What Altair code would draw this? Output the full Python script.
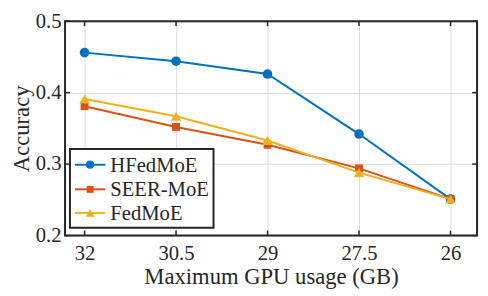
import altair as alt
import pandas as pd

x_vals = [32, 30.5, 29, 27.5, 26]
hfedmoe = [0.456, 0.444, 0.426, 0.342, 0.251]
seer_moe = [0.381, 0.352, 0.327, 0.294, 0.251]
fedmoe = [0.391, 0.367, 0.333, 0.288, 0.251]
series_names = ["HFedMoE", "SEER-MoE", "FedMoE"]
series_vals = [hfedmoe, seer_moe, fedmoe]
colors = ["#0072BD", "#D95319", "#EDB120"]
shapes = ["circle", "square", "triangle-up"]
marker_sizes = [95, 64, 110]
legend_sizes = [70, 50, 85]
y_ticks = [0.2, 0.3, 0.4, 0.5]

FONT = "Liberation Serif"
TXT = "#262626"
W, H = 419, 218

rows = []
for name, vals in zip(series_names, series_vals):
    for xv, yv in zip(x_vals, vals):
        rows.append({"series": name, "x": xv, "y": yv})
df = pd.DataFrame(rows)

xscale = alt.Scale(domain=[32.32, 25.565], nice=False, zero=False)
yscale = alt.Scale(domain=[0.2, 0.5], nice=False, zero=False)

xaxis = alt.Axis(values=x_vals, labelExpr="'' + datum.value", title="Maximum GPU usage (GB)",
                 ticks=False, domain=False, grid=True, gridColor="#dcdcdc", gridWidth=1,
                 labelFont=FONT, labelFontSize=21, labelColor=TXT, labelPadding=7,
                 titleFont=FONT, titleFontSize=23, titleFontWeight="normal", titleColor=TXT,
                 titlePadding=3)
yaxis = alt.Axis(values=y_ticks, format=".1f", title="Accuracy",
                 ticks=False, domain=False, grid=True, gridColor="#dcdcdc", gridWidth=1,
                 labelFont=FONT, labelFontSize=21, labelColor=TXT, labelPadding=4,
                 titleFont=FONT, titleFontSize=23, titleFontWeight="normal", titleColor=TXT,
                 titlePadding=2)

X = alt.X("x:Q", scale=xscale, axis=xaxis)
Y = alt.Y("y:Q", scale=yscale, axis=yaxis)

base = alt.Chart(df)
layers = []

for name, col, shp, sz in zip(series_names, colors, shapes, marker_sizes):
    sub = base.transform_filter(alt.datum.series == name)
    layers.append(sub.mark_line(color=col, strokeWidth=2).encode(x=X, y=Y))
    layers.append(sub.mark_point(color=col, shape=shp, filled=True, size=sz, opacity=1).encode(x=X, y=Y))

# inward ticks
xt = alt.Chart(pd.DataFrame({"x": x_vals}))
yt = alt.Chart(pd.DataFrame({"y": y_ticks}))
tick_style = dict(color=TXT, strokeWidth=1.5)
layers.append(xt.mark_rule(**tick_style).encode(x=X, y=alt.value(0), y2=alt.value(5)))
layers.append(xt.mark_rule(**tick_style).encode(x=X, y=alt.value(H), y2=alt.value(H - 5)))
layers.append(yt.mark_rule(**tick_style).encode(y=Y, x=alt.value(0), x2=alt.value(5)))
layers.append(yt.mark_rule(**tick_style).encode(y=Y, x=alt.value(W), x2=alt.value(W - 5)))

# plot frame
frame = alt.Chart(pd.DataFrame({"a": [0]})).mark_rect(
    fill=None, filled=False, stroke=TXT, strokeWidth=2).encode(
    x=alt.value(0), x2=alt.value(W), y=alt.value(0), y2=alt.value(H))
layers.append(frame)

# manual legend
leg_box = alt.Chart(pd.DataFrame({"a": [0]})).mark_rect(
    fill="white", stroke=TXT, strokeWidth=2).encode(
    x=alt.value(5), x2=alt.value(151), y=alt.value(130), y2=alt.value(210))
layers.append(leg_box)
entry_y = [146, 171, 195]
for name, col, shp, sz, yy in zip(series_names, colors, shapes, legend_sizes, entry_y):
    d = alt.Chart(pd.DataFrame({"series": [name]}))
    layers.append(d.mark_rule(color=col, strokeWidth=2).encode(
        x=alt.value(10), x2=alt.value(41), y=alt.value(yy)))
    layers.append(d.mark_point(color=col, shape=shp, filled=True, size=sz, opacity=1).encode(
        x=alt.value(25.5), y=alt.value(yy)))
    layers.append(d.mark_text(align="left", baseline="middle", font=FONT, fontSize=21,
                              color=TXT, dy=1).encode(
        x=alt.value(46), y=alt.value(yy), text="series:N"))

chart = alt.layer(*layers).properties(
    width=W, height=H,
    autosize=alt.AutoSizeParams(type="none"),
    padding={"left": 58, "top": 11, "right": 3, "bottom": 53},
).configure_view(stroke=None).configure(background="white")

chart.save("out.html", embed_options={"renderer": "svg", "actions": False})
